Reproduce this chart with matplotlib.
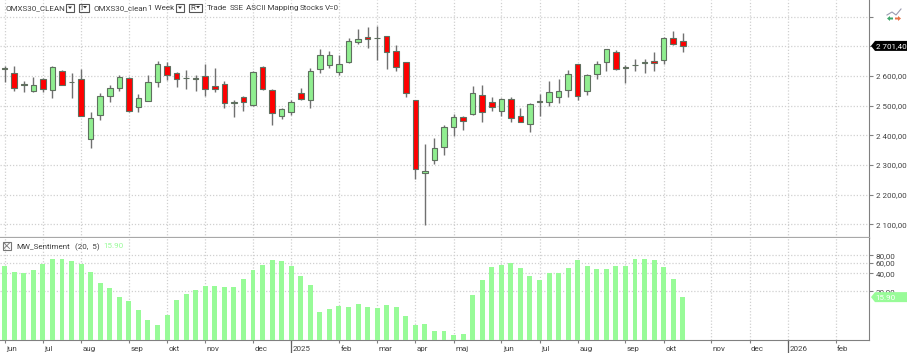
import matplotlib
matplotlib.use('Agg')
import matplotlib.pyplot as plt
import matplotlib.patches as patches
from matplotlib.transforms import ScaledTranslation

plt.rcParams['font.family'] = ['Roboto', 'DejaVu Sans']

# weekly candles
opens = [2628, 2610, 2574, 2551, 2591, 2553, 2618, 2581, 2591, 2388, 2469, 2534, 2558, 2594, 2496, 2517, 2579, 2635, 2611, 2592,
         2592, 2601, 2565, 2574, 2508, 2528, 2501, 2631, 2554, 2467, 2480, 2544, 2518, 2622, 2637, 2615, 2646, 2716, 2730, 2729,
         2734, 2684, 2646, 2518, 2272, 2317, 2360, 2429, 2462, 2471, 2537, 2512, 2483, 2524, 2466, 2438, 2517, 2513, 2529, 2552,
         2642, 2548, 2608, 2646, 2681, 2631, 2637, 2644, 2649, 2655, 2727, 2719]
highs = [2634, 2634, 2583, 2598, 2592, 2633, 2621, 2611, 2622, 2478, 2542, 2570, 2602, 2596, 2538, 2602, 2649, 2648, 2613, 2620,
         2603, 2640, 2627, 2583, 2518, 2533, 2616, 2633, 2555, 2493, 2519, 2558, 2626, 2690, 2684, 2671, 2729, 2760, 2764, 2767,
         2735, 2703, 2647, 2519, 2371, 2391, 2434, 2472, 2467, 2565, 2570, 2528, 2527, 2531, 2492, 2508, 2539, 2582, 2590, 2621,
         2642, 2607, 2652, 2690, 2687, 2638, 2656, 2656, 2680, 2730, 2753, 2746]
lows = [2581, 2548, 2547, 2547, 2546, 2527, 2569, 2527, 2466, 2356, 2452, 2513, 2551, 2480, 2480, 2515, 2563, 2587, 2562, 2557,
        2549, 2534, 2547, 2493, 2462, 2482, 2500, 2553, 2435, 2456, 2469, 2519, 2493, 2609, 2627, 2602, 2645, 2707, 2696, 2654,
        2625, 2618, 2529, 2252, 2097, 2304, 2334, 2398, 2417, 2470, 2444, 2483, 2465, 2446, 2445, 2412, 2465, 2499, 2508, 2531,
        2519, 2537, 2589, 2618, 2619, 2578, 2616, 2611, 2618, 2640, 2706, 2682]
closes = [2622, 2561, 2571, 2569, 2556, 2631, 2571, 2579, 2466, 2460, 2533, 2560, 2597, 2481, 2525, 2579, 2639, 2603, 2589, 2595,
          2591, 2556, 2557, 2510, 2513, 2513, 2613, 2555, 2474, 2489, 2511, 2522, 2617, 2670, 2671, 2639, 2717, 2724, 2725, 2727,
          2682, 2629, 2542, 2287, 2279, 2356, 2428, 2463, 2447, 2544, 2479, 2496, 2522, 2458, 2446, 2506, 2511, 2545, 2548, 2606,
          2534, 2602, 2640, 2690, 2625, 2626, 2636, 2646, 2644, 2729, 2708, 2701]

# MW_Sentiment, log scale in the lower pane
sentiment = [53.7, 41.5, 40, 44.9, 58, 70.2, 68.5, 64.2, 58, 41.5, 27.2, 22.4, 16.1, 13.8, 9.8, 6.6, 5.5, 7.9, 14.5, 17.8, 20.8,
             24.6, 24.6, 23.6, 23.3, 31.7, 44.9, 55, 67.6, 64.2, 53.7, 36, 25.5, 8.9, 10.1, 11.2, 10.7, 12.3, 10.9, 10.5, 11.8, 10.8,
             7.7, 5.5, 5.7, 4.3, 4.3, 3.7, 3.9, 17.4, 30.5, 51, 55, 59.5, 48.4, 36, 30.5, 41, 40, 49, 66.8, 53.7, 46.6,
             47.2, 53, 53, 70.2, 70.2, 66.8, 51, 32.2, 15.9]

month_pos = [0, 4, 8, 13, 17, 21, 26, 30, 35, 39, 43, 47, 52, 56, 60, 65, 69, 74, 78, 82, 87]
month_names = ['jun', 'jul', 'aug', 'sep', 'okt', 'nov', 'dec', '2025', 'feb', 'mar', 'apr', 'maj',
               'jun', 'jul', 'aug', 'sep', 'okt', 'nov', 'dec', '2026', 'feb']
price_ticks = [2100, 2200, 2300, 2400, 2500, 2600, 2700, 2800]
sent_ticks = [20, 40, 60, 80]
last_price = 2701.40
last_sent = 15.90

GREEN = '#90ee90'
RED = '#ff0000'
SENT = '#98fb98'
GRID = '#d0d0d0'
AXIS = '#808080'
TXT = '#404040'
FS = 5.8

W, H = 907, 353
fig = plt.figure(figsize=(W/100, H/100), dpi=100)
ax = fig.add_axes([0, (H-238)/H, 869/W, 238/H])
ax2 = fig.add_axes([0, (H-340)/H, 869/W, 102/H], sharex=ax)

for a in (ax, ax2):
    a.set_axisbelow(True)
    a.grid(True, color=GRID, linestyle=(0, (1, 1.5)), linewidth=0.9)
    a.yaxis.tick_right()
    for s in ('left', 'top'):
        a.spines[s].set_visible(False)
    a.spines['right'].set_color(AXIS)
    a.spines['bottom'].set_color(AXIS)

# candles
for i in range(len(opens)):
    up = closes[i] >= opens[i]
    ax.vlines(i, lows[i], highs[i], color='#707070', linewidth=1.0, zorder=2)
    ax.bar(i, abs(closes[i]-opens[i]), bottom=min(opens[i], closes[i]), width=0.58,
           color=GREEN if up else RED, edgecolor='#5f6f5f', linewidth=0.8, zorder=3)

ax.set_xlim(-4.7/9.55, (869-4.7)/9.55)
ax.set_ylim(2054.5, 2856)
ax.set_yticks(price_ticks)
ax.set_yticklabels([f'{p:,.2f}'.replace(',', ' ').replace('.', ',') if p < 2700 else '' for p in price_ticks])
ax.tick_params(axis='y', length=3, width=0.8, color=AXIS, labelsize=FS, labelcolor=TXT, pad=2)
ax.tick_params(axis='x', length=0, labelbottom=False)
ax.spines['bottom'].set_color('#a8a8a8')
ax.spines['bottom'].set_linewidth(1.6)

# sentiment bars
ax2.set_yscale('log')
ax2.bar(range(len(sentiment)), sentiment, width=0.52, color=SENT, zorder=3)
ax2.set_ylim(3.05, 155)
ax2.set_yticks(sent_ticks)
ax2.set_yticklabels([f'{v:.2f}'.replace('.', ',') for v in sent_ticks])
ax2.minorticks_off()
ax2.tick_params(axis='y', which='both', length=3, width=0.8, color=AXIS, labelsize=FS, labelcolor=TXT, pad=2)
ax2.set_xticks(month_pos)
ax2.set_xticklabels(month_names, ha='left')
ax2.tick_params(axis='x', length=2.5, width=0.8, color=AXIS, labelsize=FS, labelcolor=TXT, pad=1.5)
for lab in ax2.get_xticklabels():
    lab.set_transform(lab.get_transform() + ScaledTranslation(1.5/100, 0, fig.dpi_scale_trans))

# the year ticks run down through the label row
for p, n in zip(month_pos, month_names):
    if n.isdigit():
        ax2.plot([p, p], [-0.13, 0], transform=ax2.get_xaxis_transform(), color='#606060', lw=0.9, clip_on=False)

# header and chrome in pixel coordinates
over = fig.add_axes([0, 0, 1, 1], zorder=10)
over.set_xlim(0, W)
over.set_ylim(H, 0)
over.axis('off')

# last value tags, placed from the data
def value_tag(a, val, txt, col):
    y = H - a.transData.transform((0, val))[1]
    over.add_patch(patches.Polygon([(871, y), (875, y-5), (W, y-5), (W, y+5), (875, y+5)], color=col, lw=0))
    over.text(875.5, y, txt, fontsize=FS, color='white', va='center_baseline', ha='left')

value_tag(ax, last_price, f'{last_price:,.2f}'.replace(',', ' ').replace('.', ','), 'black')
value_tag(ax2, last_sent, f'{last_sent:.2f}', SENT)

header = [(6, 'OMXS30_CLEAN'), (94, 'OMXS30_clean'), (148, '1 Week'), (207, 'Trade'), (230, 'SSE'),
          (246, 'ASCII Mapping'), (300, 'Stocks'), (325, 'V=0')]
for x, t in header:
    over.text(x, 7.5, t, fontsize=FS, color=TXT, va='center_baseline', ha='left')

for x, w in [(66, 8), (176, 8)]:
    over.add_patch(patches.Rectangle((x, 3.5), w, 8, fill=False, ec='#555555', lw=0.8))
    over.add_patch(patches.Polygon([(x+2, 6.5), (x+6, 6.5), (x+4, 9)], color='#333333', lw=0))
for x, w, c in [(79, 10, 'I'), (189, 13, 'R')]:
    over.add_patch(patches.Rectangle((x, 3.5), w, 8, fill=False, ec='#555555', lw=0.8))
    over.text(x+1.2, 7.5, c, fontsize=FS, color=TXT, va='center_baseline')
    over.add_patch(patches.Polygon([(x+w-6, 6), (x+w-2, 6), (x+w-4, 8.5)], color='#333333', lw=0))

# sentiment legend
over.add_patch(patches.Rectangle((2.5, 241.5), 8.5, 8.5, fill=False, ec='#777777', lw=0.8))
over.plot([4, 9.5], [243, 248.5], color='#777777', lw=0.6)
over.plot([4, 9.5], [248.5, 243], color='#777777', lw=0.6)
over.text(16, 246, 'MW_Sentiment', fontsize=FS, color=TXT, va='center_baseline')
over.text(75, 246, '(20,  5)', fontsize=FS, color=TXT, va='center_baseline')
over.text(103, 246, f'{last_sent:.2f}', fontsize=FS, color=SENT, va='center_baseline')

# toolbar icon top right
over.plot([887, 892, 896, 901], [15, 12, 15, 9], color='#9a9ab0', lw=0.8)
over.add_patch(patches.FancyArrow(893, 18.5, -6, 0, width=2, head_width=5, head_length=3, length_includes_head=True, color='#3fa66a', lw=0))
over.add_patch(patches.FancyArrow(895, 18.5, 6, 0, width=2, head_width=5, head_length=3, length_includes_head=True, color='#e8734a', lw=0))

fig.savefig('out.png', dpi=100)
